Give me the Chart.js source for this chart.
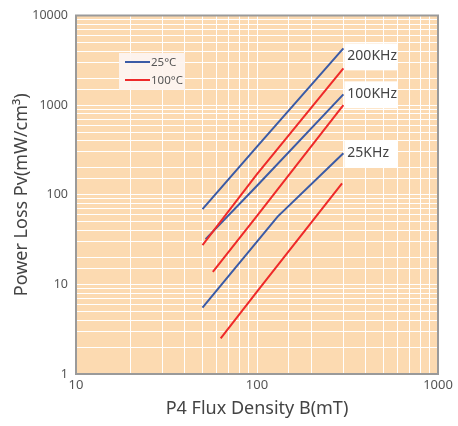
<!DOCTYPE html>
<html>
<head>
<meta charset="utf-8">
<script src="https://cdn.jsdelivr.net/npm/chart.js@4/dist/chart.umd.min.js"></script>
<style>
  html, body { margin: 0; padding: 0; background: #fff; }
  #wrap { width: 458px; height: 426px; position: relative; }
</style>
</head>
<body>
<div id="wrap"><canvas id="lossChart"></canvas></div>
<script>
// Flux density (mT) and power loss (mW/cm3)
const b200x = [50, 100, 300];
const b200y = [69, 345, 4300];
const r200x = [50, 100, 300];
const r200y = [27.4, 170, 2570];
const b100x = [52, 100, 300];
const b100y = [32, 126, 1320];
const r100x = [57, 100, 300];
const r100y = [13.8, 58, 1000];
const b25x = [50, 130, 300];
const b25y = [5.5, 57, 290];
const r25x = [63, 100, 295];
const r25y = [2.5, 8.3, 134];

const freqLabels = ['200KHz', '100KHz', '25KHz'];
const tempLabels = ['25°C', '100°C'];
const xTicks = [10, 100, 1000];
const yTicks = [1, 10, 100, 1000, 10000];

const BLUE = '#3b5ba6';
const RED = '#ee2a2a';
const FONT = "'Noto Sans', 'Open Sans', sans-serif";

const pts = (xs, ys) => xs.map((x, i) => ({ x: x, y: ys[i] }));

const series = [
  { data: pts(b200x, b200y), color: BLUE },
  { data: pts(r200x, r200y), color: RED },
  { data: pts(b100x, b100y), color: BLUE },
  { data: pts(r100x, r100y), color: RED },
  { data: pts(b25x, b25y), color: BLUE },
  { data: pts(r25x, r25y), color: RED },
];

// peach plot area, frame, legend box and frequency tags
const decorPlugin = {
  id: 'decor',
  beforeDraw(chart) {
    const { ctx, chartArea: a } = chart;
    ctx.save();
    ctx.fillStyle = '#fcdab1';
    ctx.fillRect(a.left, a.top, a.right - a.left, a.bottom - a.top);
    ctx.restore();
  },
  afterDraw(chart) {
    const { ctx, chartArea: a, scales } = chart;
    ctx.save();
    ctx.strokeStyle = '#9a9a9a';
    ctx.lineWidth = 2;
    ctx.strokeRect(a.left, a.top, a.right - a.left, a.bottom - a.top);

    // legend
    ctx.fillStyle = 'rgba(253,244,240,0.95)';
    ctx.fillRect(119, 53, 66, 37);
    ctx.lineWidth = 2;
    [BLUE, RED].forEach((c, i) => {
      const y = 62 + i * 18;
      ctx.strokeStyle = c;
      ctx.beginPath();
      ctx.moveTo(125, y);
      ctx.lineTo(150, y);
      ctx.stroke();
      ctx.fillStyle = '#555';
      ctx.font = '11.5px ' + FONT;
      ctx.textBaseline = 'middle';
      ctx.textAlign = 'left';
      ctx.fillText(tempLabels[i], 151, y + 1);
    });

    // frequency tags next to the end of each 25°C curve
    const ends = [series[0], series[2], series[4]].map(s => s.data[s.data.length - 1]);
    const dy = [8, 0, 0];
    ctx.font = '14px ' + FONT;
    ends.forEach((p, i) => {
      const px = scales.x.getPixelForValue(p.x);
      const py = scales.y.getPixelForValue(p.y) + dy[i];
      ctx.fillStyle = '#fff';
      ctx.fillRect(px + 1, py - 13, 53, 27);
      ctx.fillStyle = '#444';
      ctx.textAlign = 'left';
      ctx.textBaseline = 'middle';
      ctx.fillText(freqLabels[i], px + 4, py);
    });
    ctx.restore();
  }
};

new Chart(document.getElementById('lossChart'), {
  type: 'line',
  data: {
    datasets: series.map(s => ({
      data: s.data,
      borderColor: s.color,
      borderWidth: 2,
      pointRadius: 0,
      tension: 0,
      fill: false
    }))
  },
  options: {
    responsive: true,
    maintainAspectRatio: false,
    animation: false,
    layout: { padding: { top: 15, right: 20, left: 0, bottom: 0 } },
    plugins: { legend: { display: false }, tooltip: { enabled: false } },
    scales: {
      x: {
        type: 'logarithmic',
        min: 10, max: 1000,
        afterFit: s => { s.height = 52; },
        grid: { color: '#ffffff', lineWidth: 1, drawTicks: false },
        border: { display: false },
        ticks: {
          autoSkip: false, maxRotation: 0, padding: 3,
          color: '#555', font: { size: 13, family: FONT },
          callback: v => xTicks.includes(v) ? String(v) : ''
        },
        title: {
          display: true, text: 'P4 Flux Density B(mT)',
          color: '#444', font: { size: 18, family: FONT },
          padding: { top: 0, bottom: 6 }
        }
      },
      y: {
        type: 'logarithmic',
        min: 1, max: 10000,
        afterFit: s => { s.width = 76; },
        grid: { color: '#ffffff', lineWidth: 1, drawTicks: false },
        border: { display: false },
        ticks: {
          autoSkip: false, padding: 8,
          color: '#555', font: { size: 12.5, family: FONT },
          callback: v => yTicks.includes(v) ? String(v) : ''
        },
        title: {
          display: true, text: 'Power Loss Pv(mW/cm³)',
          color: '#444', font: { size: 18, family: FONT },
          padding: { top: 11, bottom: 0 }
        }
      }
    }
  },
  plugins: [decorPlugin]
});
</script>
</body>
</html>
